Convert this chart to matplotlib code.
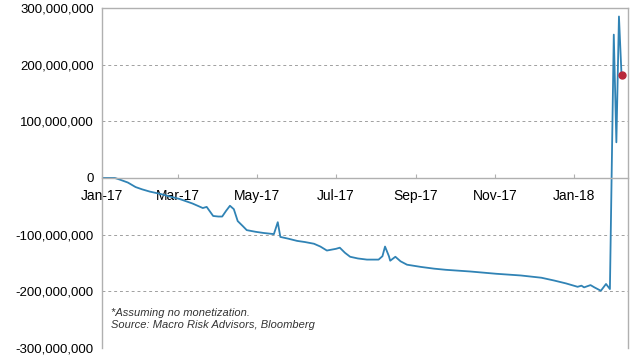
import matplotlib.pyplot as plt
import matplotlib.ticker as mticker
import pandas as pd

# days after 1 Jan 2017, value in millions
day_offsets = [0, 10, 14, 20, 26, 31, 37, 45, 53, 60, 70, 78, 81, 86, 90, 93, 96, 99,
               102, 105, 109, 112, 119, 125, 133, 136, 138, 144, 151, 157, 164, 169,
               174, 181, 184, 188, 192, 198, 205, 214, 217, 219, 222, 223, 227, 231,
               236, 247, 257, 266, 285, 305, 324, 340, 350, 359, 368, 371, 373, 378,
               381, 386, 390, 393, 396, 398, 400, 402]
values_m = [0, 0, -3, -8, -16, -20, -24, -28, -33, -37, -45, -53, -51, -67, -68, -68, -58, -49,
            -55, -76, -85, -92, -95, -97, -99, -78, -104, -107, -111, -113, -116, -121,
            -128, -125, -123, -132, -139, -142, -144, -144, -138, -121, -138, -146, -139, -147,
            -153, -157, -160, -162, -165, -169, -172, -176, -181, -186, -192, -190, -193, -189,
            -193, -199, -187, -196, 253, 63, 285, 181]

tick_labels = ['Jan-17', 'Mar-17', 'May-17', 'Jul-17', 'Sep-17', 'Nov-17', 'Jan-18']
tick_dates = pd.to_datetime(['2017-01-01', '2017-03-01', '2017-05-01', '2017-07-01',
                             '2017-09-01', '2017-11-01', '2018-01-01'])

dates = pd.Timestamp('2017-01-01') + pd.to_timedelta(day_offsets, unit='D')
values = [v * 1e6 for v in values_m]

plt.rcParams['font.family'] = ['Liberation Sans', 'DejaVu Sans']

fig = plt.figure(figsize=(6.4, 3.59), dpi=100)
ax = fig.add_axes([102 / 640, 1 - 348 / 359, 526 / 640, 340 / 359])

ax.plot(dates, values, color='#3083b5', linewidth=1.3)
ax.plot(dates[-1], values[-1], 'o', color='#b8283a', markersize=5)

ax.set_ylim(-300e6, 300e6)
ax.set_xlim(pd.Timestamp('2017-01-01'), pd.Timestamp('2018-02-12'))
ax.set_yticks([-300e6, -200e6, -100e6, 0, 100e6, 200e6, 300e6])
ax.yaxis.set_major_formatter(mticker.FuncFormatter(lambda v, p: f'{int(round(v)):,}'))
ax.set_xticks(tick_dates)
ax.set_xticklabels(tick_labels)

for y in [-200e6, -100e6, 100e6, 200e6]:
    ax.axhline(y, color='#a0a0a0', linestyle=(0, (3, 3)), linewidth=0.7, zorder=0)

ax.spines['bottom'].set_position(('data', 0))
for s in ax.spines.values():
    s.set_color('#b0b0b0')
    s.set_linewidth(1)

ax.tick_params(axis='x', direction='in', length=3, color='#b0b0b0', labelsize=10, pad=8)
ax.tick_params(axis='y', length=0, labelsize=9.5, pad=6)

ax.text(0.018, 0.085, '*Assuming no monetization.\nSource: Macro Risk Advisors, Bloomberg',
        transform=ax.transAxes, fontsize=8, style='italic', color='#333333',
        linespacing=1.15, va='center')

fig.savefig('out.png', dpi=100)
